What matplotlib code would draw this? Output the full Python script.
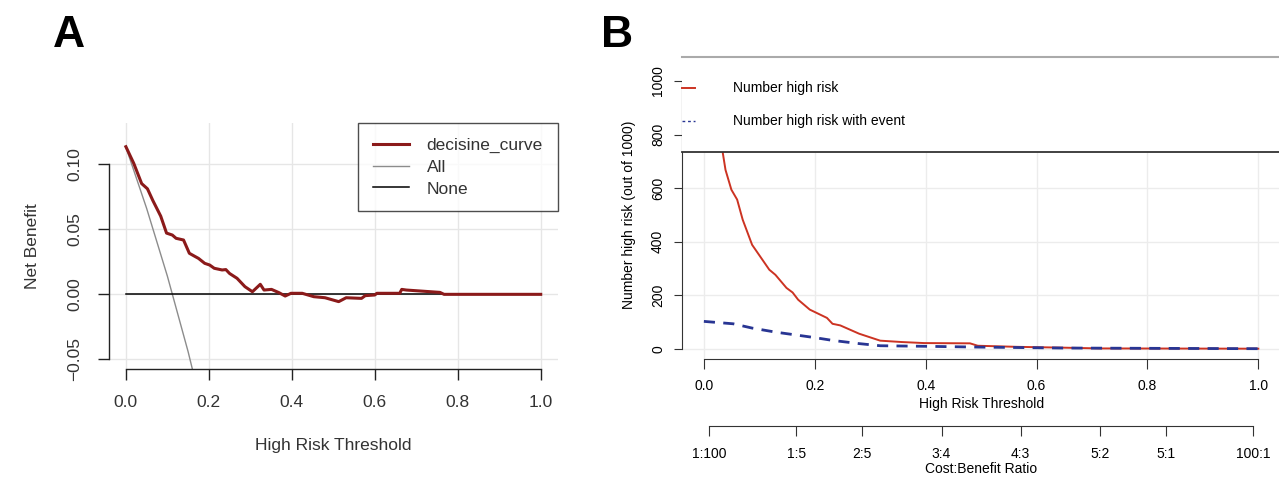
import numpy as np
import matplotlib
matplotlib.use("Agg")
import matplotlib.pyplot as plt
from matplotlib.patches import Rectangle
from matplotlib.lines import Line2D

plt.rcParams['font.family'] = ['Liberation Sans', 'DejaVu Sans']

# ===================== DATA =====================
# Panel A: decision curve (net benefit)
nb_thresh = [0.0, 0.019, 0.038, 0.052, 0.065, 0.084, 0.098, 0.112, 0.121, 0.139,
             0.153, 0.167, 0.175, 0.19, 0.202, 0.213, 0.232, 0.241, 0.25, 0.268,
             0.287, 0.305, 0.324, 0.333, 0.351, 0.369, 0.384, 0.398, 0.425, 0.453,
             0.48, 0.513, 0.531, 0.568, 0.577, 0.60, 0.605, 0.66, 0.665, 0.676,
             0.757, 0.767, 1.0]
nb_model = [0.1133, 0.1005, 0.085, 0.081, 0.072, 0.060, 0.047, 0.0455, 0.043, 0.0417,
            0.0315, 0.029, 0.0276, 0.0238, 0.0225, 0.020, 0.0187, 0.019, 0.016, 0.0123,
            0.0059, 0.002, 0.0077, 0.0033, 0.0038, 0.0013, -0.0013, 0.0008, 0.0008, -0.0018,
            -0.0026, -0.0056, -0.0026, -0.0031, -0.001, -0.0005, 0.0008, 0.0008, 0.0038, 0.0033,
            0.0015, 0.0, 0.0]
all_thresh = [0.0, 0.05, 0.10, 0.15, 0.20]
all_nb = [0.113, 0.066, 0.014, -0.044, -0.109]
none_thresh = [0.0, 1.0]
none_nb = [0.0, 0.0]

# Panel B: clinical impact curve (out of 1000)
hr_thresh = [0.0, 0.015, 0.034, 0.039, 0.0496, 0.060, 0.070, 0.087, 0.118, 0.129,
             0.149, 0.160, 0.170, 0.191, 0.222, 0.232, 0.246, 0.280, 0.318, 0.356,
             0.397, 0.48, 0.494, 0.563, 0.645, 0.714, 1.0]
hr_count = [1000, 880, 733, 668, 594, 557, 482, 388, 295, 276,
            227, 210, 183, 146, 115, 93, 87, 56, 30, 25,
            21, 20, 11, 7, 4, 1, 0]
ev_thresh = [0.0, 0.053, 0.087, 0.129, 0.198, 0.232, 0.28, 0.318, 0.397, 0.494, 0.645, 1.0]
ev_count = [102, 93, 77, 62, 42, 31, 19, 11, 9, 6, 2.5, 0]

x_ticks = [0.0, 0.2, 0.4, 0.6, 0.8, 1.0]
a_yticks = [-0.05, 0.0, 0.05, 0.10]
b_yticks = [0, 200, 400, 600, 800, 1000]
ratio_labels = ["1:100", "1:5", "2:5", "3:4", "4:3", "5:2", "5:1", "100:1"]
ratio_pos = [0.0099, 0.1667, 0.2857, 0.4286, 0.5714, 0.7143, 0.8333, 0.9901]

# ===================== FIGURE =====================
W, H = 1279, 479
fig = plt.figure(figsize=(W / 100, H / 100), dpi=100)

def box(l, t, r, b):
    return [l / W, 1 - b / H, (r - l) / W, (b - t) / H]

GRID = '#e6e6e6'
TXT_A = '#333333'
FS_B = 10

# ---------- Panel A ----------
axA = fig.add_axes(box(109, 123, 557.6, 369))
axA.set_xlim(-0.0407, 1.0407)
axA.set_ylim(-0.0573, 0.1315)
axA.grid(True, color=GRID, lw=1.0)
axA.set_axisbelow(True)
axA.plot(all_thresh, all_nb, color='#8c8c8c', lw=1.0, label='All')
axA.plot(none_thresh, none_nb, color='black', lw=1.1, label='None')
axA.plot(nb_thresh, nb_model, color='#8b1a1a', lw=2.2, label='decisine_curve')
for s in ['top', 'right']:
    axA.spines[s].set_visible(False)
axA.spines['left'].set_bounds(-0.05, 0.10)
axA.spines['bottom'].set_bounds(0, 1)
for s in ['left', 'bottom']:
    axA.spines[s].set_color('#222222')
    axA.spines[s].set_linewidth(1.0)
axA.set_xticks(x_ticks, labels=[f"{v:.1f}" for v in x_ticks])
axA.set_yticks(a_yticks, labels=["\u22120.05", "0.00", "0.05", "0.10"])
axA.tick_params(axis='x', length=8, width=1.0, pad=11, labelsize=12.5,
                labelcolor=TXT_A, color='#222222')
axA.tick_params(axis='y', length=8, width=1.0, pad=11, labelsize=12.5,
                labelcolor=TXT_A, color='#222222')
for lab in axA.get_yticklabels():
    lab.set_rotation(90)
    lab.set_va('center')
axA.set_xlabel("High Risk Threshold", fontsize=12.5, color=TXT_A, labelpad=20)
axA.set_ylabel("Net Benefit", fontsize=12.5, color=TXT_A, labelpad=20)
h, l = axA.get_legend_handles_labels()
order = [2, 0, 1]
leg = axA.legend([h[i] for i in order], [l[i] for i in order], loc='upper right',
                 bbox_to_anchor=(1.0, 1.0), borderaxespad=0, fancybox=False,
                 frameon=True, edgecolor='#222222', fontsize=12.5, labelspacing=0.38,
                 handlelength=2.1, handletextpad=1.0, borderpad=0.85)
leg.get_frame().set_linewidth(1.0)
for t in leg.get_texts():
    t.set_color(TXT_A)
fig.text(53 / W, 1 - 47 / H, "A", fontsize=32, fontweight='bold', va='baseline')

# ---------- Panel B ----------
axB = fig.add_axes(box(681.7, 70.3, 1280.5, 359.4))
axB.set_xlim(-0.04, 1.04)
axB.set_ylim(-40, 1040)
axB.grid(True, color='#ececec', lw=1.0)
axB.set_axisbelow(True)
axB.plot(hr_thresh, hr_count, color='#cc3322', lw=1.4)
axB.plot(ev_thresh, ev_count, color='#283593', lw=2.0, ls=(0, (4, 3)))
for s in ['top', 'right']:
    axB.spines[s].set_visible(False)
axB.spines['left'].set_bounds(0, 1000)
axB.spines['bottom'].set_bounds(0, 1)
for s in ['left', 'bottom']:
    axB.spines[s].set_color('#333333')
axB.set_xticks(x_ticks, labels=[f"{v:.1f}" for v in x_ticks])
axB.set_yticks(b_yticks, labels=[str(v) for v in b_yticks])
axB.tick_params(axis='x', length=7, pad=7, labelsize=FS_B, color='#333333')
axB.tick_params(axis='y', length=6, pad=6, labelsize=FS_B, color='#333333')
for lab in axB.get_yticklabels():
    lab.set_rotation(90)
    lab.set_va('center')
axB.set_xlabel("High Risk Threshold", fontsize=FS_B, labelpad=3)
axB.set_ylabel("Number high risk (out of 1000)", fontsize=FS_B, labelpad=11)

sec = axB.secondary_xaxis(-0.23)
sec.set_xticks(ratio_pos, labels=ratio_labels)
sec.spines['bottom'].set_bounds(ratio_pos[0], ratio_pos[-1])
sec.spines['bottom'].set_color('#333333')
sec.tick_params(axis='x', length=7, pad=8, labelsize=FS_B, color='#333333')
sec.set_xlabel("Cost:Benefit Ratio", fontsize=FS_B, labelpad=1)

# legend box drawn over the top of panel B
fig.add_artist(Rectangle((681.7 / W, 1 - 152.3 / H), (W - 681.7) / W, (152.3 - 56.7) / H,
                         transform=fig.transFigure, facecolor='white', edgecolor='none',
                         zorder=5))
fig.add_artist(Line2D([681.7 / W, 1.0], [1 - 56.7 / H] * 2, transform=fig.transFigure,
                      color='#aaaaaa', lw=1.5, zorder=6))
fig.add_artist(Line2D([681.7 / W, 1.0], [1 - 152.3 / H] * 2, transform=fig.transFigure,
                      color='#333333', lw=1.3, zorder=6))
fig.add_artist(Line2D([682 / W, 695 / W], [1 - 88 / H] * 2, transform=fig.transFigure,
                      color='#cc3322', lw=1.4, zorder=6))
fig.add_artist(Line2D([682 / W, 695 / W], [1 - 120.7 / H] * 2, transform=fig.transFigure,
                      color='#283593', lw=1.0, ls=(0, (2, 2)), zorder=6))
fig.text(733 / W, 1 - 88 / H, "Number high risk", fontsize=FS_B, va='center', zorder=7)
fig.text(733 / W, 1 - 120.7 / H, "Number high risk with event", fontsize=FS_B,
         va='center', zorder=7)
fig.text(601 / W, 1 - 47 / H, "B", fontsize=32, fontweight='bold', va='baseline')

fig.savefig("out.png", dpi=100)
